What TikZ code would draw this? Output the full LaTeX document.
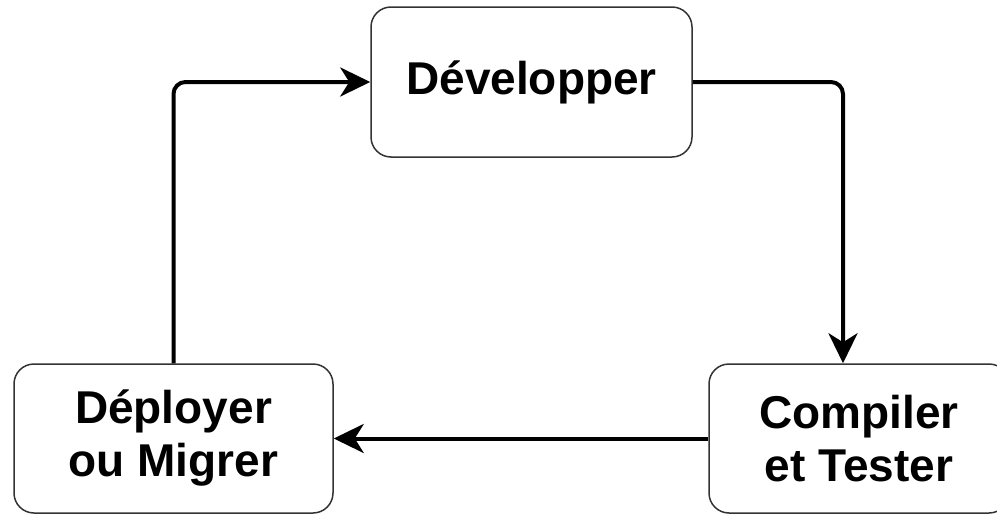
\documentclass[tikz,border=0pt]{standalone}
\usepackage{fontspec}
\setmainfont{Liberation Sans}
\usetikzlibrary{arrows.meta}
\begin{document}
\begin{tikzpicture}[x=1pt,y=-1pt,
  stepbox/.style={draw=black!80, line width=1.5pt, rounded corners=20pt, fill=white,
    align=center, inner sep=0pt, font=\fontsize{46}{53}\selectfont\bfseries},
  flow/.style={line width=4pt, rounded corners=12pt,
    -{Stealth[length=30pt,width=29pt,inset=9pt]}}]
\useasboundingbox (0,0) rectangle (997,514);
\begin{scope}
\clip (0,0) rectangle (997,514);
\node[stepbox, minimum width=321pt, minimum height=150pt] (dev) at (531.5,82) {Développer};
\node[stepbox, minimum width=319pt, minimum height=149pt] (dep) at (173.5,438.5) {Déployer\\ou Migrer};
\node[stepbox, minimum width=300pt, minimum height=149pt] (comp) at (859,438.5) {Compiler\\et Tester};
\coordinate (c1) at (843,82);
\draw[flow] (dev.east) -- (c1) -- (c1 |- comp.north);
\draw[flow] (comp.west) -- (dep.east);
\draw[flow] (dep.north) |- (dev.west);
\end{scope}
\end{tikzpicture}
\end{document}
